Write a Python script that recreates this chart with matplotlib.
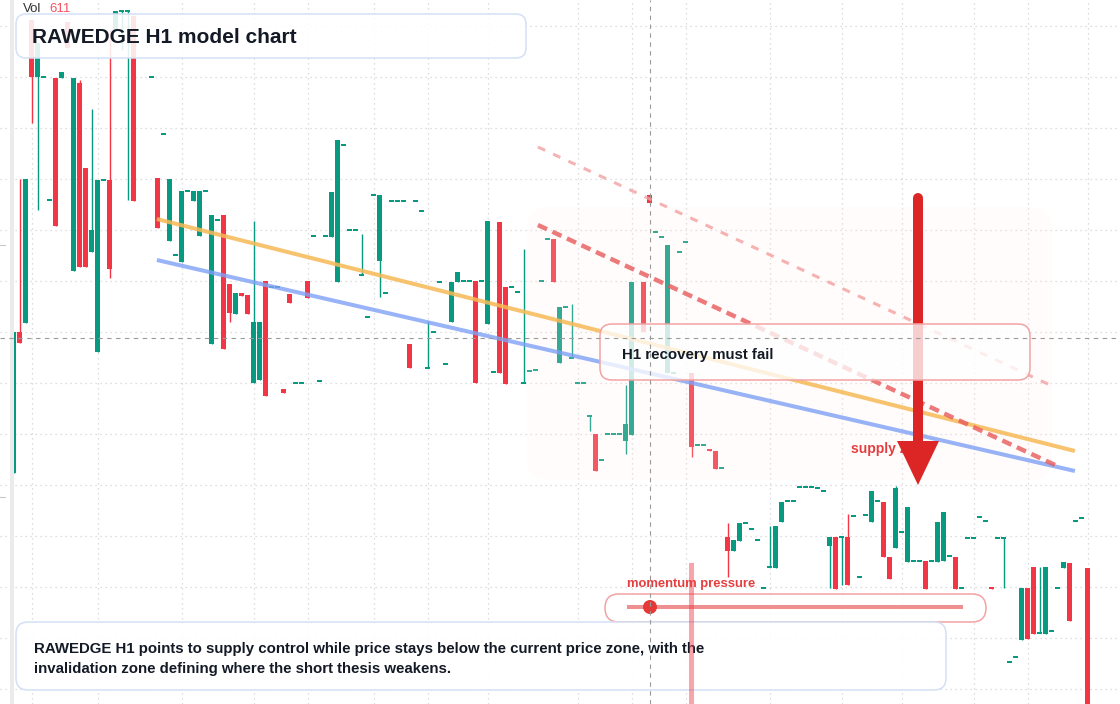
import matplotlib
matplotlib.use("Agg")
import matplotlib.pyplot as plt
from matplotlib.patches import FancyBboxPatch, Polygon, Circle
from matplotlib.transforms import Affine2D

W, H = 1120, 704

# candle OHLC, one slot per bar (None = empty slot)
opens = [231, 372, 381, 684, 627, 627, 504, 626, 626, 682,
         433, 621, 536, 452, 352, 524, 524, 674, 693, 693,
         688, None, None, 627, 526, 570, 463, 449, 442, 513,
         503, 468, 513, 360, 484, 489, 420, 390, 411, 409,
         321, 324, 423, 417, 417, 315, 410, 321, 321, 423,
         468, 323, 468, 467, 422, 559, 474, 474, 429, 387,
         509, 443, 411, 503, 503, 503, 360, 503, 493, 336,
         372, 422, 340, 382, 422, 423, 423, 423, 423, 380,
         332, 482, 417, 417, 412, 321, 333, 334, 423, 465,
         465, 341, 397, 346, 321, 321, 288, 270, 244, 270,
         270, 270, 263, 269, None, 422, 509, 472, 467, 331,
         331, 452, 462, 331, 259, 259, 254, 253, 236, 167,
         153, 163, 181, 175, 164, 116, 137, 136, 182, 203,
         203, 217, 217, 217, 216, 213, 158, 167, 167, 167,
         188, 127, 189, 182, 203, 202, 147, 156, 172, 142,
         143, 143, 143, 143, 142, 143, 148, 147, 116, 166,
         166, 187, 183, 117, 166, 166, 42, 47, 64, 116,
         137, 71, 70, 73, 116, 136, 141, 183, 186, 136]
highs = [372, 525, 525, 684, 661, 627, 504, 626, 632, 682,
         626, 624, 536, 595, 524, 524, 674, 693, 693, 693,
         688, None, None, 627, 526, 570, 525, 449, 513, 513,
         513, 513, 513, 489, 484, 489, 420, 411, 411, 409,
         483, 382, 423, 417, 417, 315, 410, 321, 321, 423,
         468, 323, 468, 512, 564, 559, 474, 474, 470, 387,
         509, 509, 411, 503, 503, 503, 360, 503, 493, 383,
         372, 422, 340, 422, 432, 423, 423, 423, 423, 483,
         332, 482, 417, 417, 412, 455, 333, 334, 423, 465,
         465, 397, 397, 400, 321, 321, 288, 270, 244, 270,
         270, 270, 319, 422, None, 422, 509, 472, 467, 459,
         331, 452, 462, 331, 259, 259, 254, 253, 236, 181,
         164, 181, 181, 175, 164, 116, 178, 178, 202, 203,
         203, 217, 217, 217, 216, 213, 167, 167, 167, 190,
         188, 127, 189, 213, 203, 202, 147, 218, 172, 197,
         143, 143, 143, 143, 182, 192, 148, 147, 116, 166,
         166, 187, 183, 117, 166, 166, 42, 47, 116, 116,
         137, 137, 137, 73, 116, 142, 141, 183, 186, 136]
lows = [231, 361, 381, 581, 494, 627, 504, 478, 626, 656,
        433, 437, 437, 452, 352, 524, 426, 674, 654, 504,
        503, None, None, 627, 476, 570, 463, 449, 442, 513,
        503, 468, 513, 360, 484, 355, 382, 390, 408, 390,
        321, 324, 308, 417, 417, 311, 401, 321, 321, 406,
        468, 323, 468, 467, 422, 559, 474, 474, 429, 387,
        509, 407, 411, 503, 503, 503, 336, 503, 493, 336,
        372, 422, 340, 382, 422, 423, 423, 321, 423, 380,
        332, 331, 320, 417, 412, 321, 333, 334, 423, 465,
        422, 341, 397, 346, 321, 321, 273, 233, 244, 270,
        270, 270, 250, 269, None, 372, 501, 472, 467, 331,
        331, 452, 462, 247, 259, 259, 253, 235, 236, 127,
        153, 163, 181, 175, 164, 116, 137, 136, 182, 203,
        203, 217, 217, 217, 216, 213, 116, 115, 119, 119,
        188, 127, 189, 182, 203, 147, 125, 156, 172, 142,
        143, 143, 115, 143, 142, 143, 148, 115, 116, 166,
        166, 187, 183, 115, 166, 116, 42, 47, 64, 65,
        70, 71, 70, 73, 116, 136, 83, 183, 186, -6]
closes = [372, 361, 525, 627, 661, 627, 504, 478, 632, 656,
          626, 437, 437, 474, 524, 524, 435, 693, 693, 693,
          503, None, None, 627, 476, 570, 525, 449, 513, 513,
          513, 513, 513, 489, 484, 355, 391, 411, 408, 390,
          382, 382, 308, 417, 417, 311, 401, 321, 321, 406,
          468, 323, 468, 512, 564, 559, 474, 474, 429, 387,
          509, 509, 411, 503, 503, 503, 336, 503, 493, 336,
          372, 422, 340, 422, 432, 423, 423, 321, 423, 483,
          332, 331, 320, 417, 412, 321, 333, 334, 423, 465,
          422, 397, 397, 346, 321, 321, 288, 233, 244, 270,
          270, 270, 280, 422, None, 372, 501, 472, 467, 459,
          331, 452, 462, 257, 259, 259, 253, 235, 236, 153,
          164, 181, 181, 175, 164, 116, 137, 178, 202, 203,
          203, 217, 217, 217, 216, 213, 167, 115, 167, 119,
          188, 127, 189, 213, 203, 147, 125, 216, 172, 197,
          143, 143, 115, 143, 182, 192, 148, 115, 116, 166,
          166, 187, 183, 115, 166, 166, 42, 47, 116, 65,
          70, 71, 137, 73, 116, 142, 83, 183, 186, -6]

# time-axis grid positions (bar index) and price grid levels
x_grid = [3, 14, 28, 40, 49, 60, 69, 79, 94, 103, 112, 126, 138, 148, 160, 169, 179]
y_grid = [678, 627, 576, 525, 474, 423, 372, 321, 270, 219, 168, 117, 66, 15]

# drawn trendlines: (bar index pair, price pair)
support_x, support_y = [23.9, 176.9], [444, 233]
resist_x, resist_y = [23.9, 176.9], [485, 253]
inval_x, inval_y = [87.4, 173.6], [479, 239]
upper_x, upper_y = [87.4, 173.1], [557, 318]

cross_bar, cross_price = 106, 366
vol_bar, vol_value = 113, 141

UP, DOWN = "#089981", "#f23645"
FONT = "Liberation Sans"

fig = plt.figure(figsize=(W / 100, H / 100), dpi=100)
ax = fig.add_axes([0, 0, 1, 1])
ax.set_xlim(-2.25, (W - 13.5) / 6)
ax.set_ylim(0, H)
ax.axis("off")
px = Affine2D().scale(1, -1).translate(0, H)  # screen pixels, origin top-left

# grid
for gx in x_grid:
    ax.axvline(gx, color="#d2d2d2", lw=0.9, ls=(0, (1, 3)), zorder=0)
for gy in y_grid:
    ax.axhline(gy, color="#d2d2d2", lw=0.9, ls=(0, (1, 3)), zorder=0)

# candles
for i in range(len(opens)):
    o, h, l, c = opens[i], highs[i], lows[i], closes[i]
    if o is None:
        continue
    col = UP if c >= o else DOWN
    if h > l:
        ax.vlines(i, l, h, color=col, lw=1.0, zorder=2)
    body = max(abs(c - o), 1.6)
    bottom = min(o, c) if abs(c - o) >= 1.6 else o - 0.8
    ax.bar(i, body, bottom=bottom, width=0.83, color=col, lw=0, zorder=2)

# left price scale strip and ticks
ax.add_patch(plt.Rectangle((10, 0), 4, H, transform=px, color="#ebebeb", lw=0, zorder=3))
for ty in [245, 497]:
    ax.plot([0, 5], [ty, ty], transform=px, color="#c8c8c8", lw=0.8, zorder=3)

# pale zone
ax.add_patch(FancyBboxPatch((527, 207), 525, 273, transform=px,
                            boxstyle="round,pad=0,rounding_size=22",
                            fc="#fff3ea", alpha=0.18, lw=0, zorder=3))

# trendlines
ax.plot(resist_x, resist_y, color="#f7b955", alpha=0.85, lw=2.9, solid_capstyle="butt", zorder=4)
ax.plot(support_x, support_y, color="#7fa0f5", alpha=0.8, lw=2.9, solid_capstyle="butt", zorder=4)
l1, = ax.plot(inval_x, inval_y, color="#e85a5a", alpha=0.8, lw=3.2, zorder=4)
l1.set_dashes([2.25, 1.35])
l2, = ax.plot(upper_x, upper_y, color="#f4a0a0", alpha=0.8, lw=2.2, zorder=4)
l2.set_dashes([2.6, 2.9])

# title box
ax.add_patch(FancyBboxPatch((16, 14), 510, 44, transform=px,
                            boxstyle="round,pad=0,rounding_size=10",
                            fc=(1, 1, 1, 0.88), ec="#d3e0f5", lw=1.1, zorder=5))
ax.text(32, 37.5, "RAWEDGE H1 model chart", transform=px, fontsize=15, fontweight="bold",
        color="#131a26", family=FONT, va="center", zorder=6)
ax.text(23, 9.5, "Vol", transform=px, fontsize=9.5, color="#333333", family=FONT, va="center", zorder=6)
ax.text(49, 9.5, "611", transform=px, fontsize=9.5, color="#f7525f", family=FONT, va="center", zorder=6)

# supply zone label and arrow
ax.text(851, 449.5, "supply zone", transform=px, fontsize=10, fontweight="bold",
        color="#e53e3e", family=FONT, va="center", zorder=6)
ax.plot([918, 918], [198, 450], transform=px, color="#dc2626", lw=7.2,
        solid_capstyle="round", zorder=7)
ax.add_patch(Polygon([(897, 441), (939, 441), (918, 485)], closed=True, transform=px,
                     fc="#dc2626", lw=0, zorder=7))

# recovery box
ax.add_patch(FancyBboxPatch((600, 324), 430, 56, transform=px,
                            boxstyle="round,pad=0,rounding_size=12",
                            fc=(1, 1, 1, 0.78), ec="#f2a3a3", lw=1.1, zorder=8))
ax.text(622, 355, "H1 recovery must fail", transform=px, fontsize=10.8, fontweight="bold",
        color="#131a26", family=FONT, va="center", zorder=9)

# momentum slider
ax.text(627, 583.5, "momentum pressure", transform=px, fontsize=9.4, fontweight="bold",
        color="#e53e3e", family=FONT, va="center", zorder=9)
ax.add_patch(FancyBboxPatch((605, 594), 381, 28, transform=px,
                            boxstyle="round,pad=0,rounding_size=14",
                            fc=(1, 1, 1, 0.85), ec="#f2a3a3", lw=1.1, zorder=8))
ax.plot([627, 963], [607, 607], transform=px, color="#ee7b7b", alpha=0.85, lw=2.9,
        solid_capstyle="butt", zorder=9)
ax.add_patch(Circle((650, 607), 7, transform=px, fc="#e53935", lw=0, zorder=9))

# summary box
ax.add_patch(FancyBboxPatch((16, 622), 930, 68, transform=px,
                            boxstyle="round,pad=0,rounding_size=12",
                            fc=(1, 1, 1, 0.92), ec="#d3e0f5", lw=1.1, zorder=8))
ax.text(34, 649.5, "RAWEDGE H1 points to supply control while price stays below the current price zone, with the",
        transform=px, fontsize=10.8, fontweight="bold", color="#131a26", family=FONT, va="center", zorder=9)
ax.text(34, 669.5, "invalidation zone defining where the short thesis weakens.",
        transform=px, fontsize=10.8, fontweight="bold", color="#131a26", family=FONT, va="center", zorder=9)

# crosshair and hovered volume bar
ax.bar(vol_bar, vol_value, bottom=0, width=0.83, color=DOWN, alpha=0.45, lw=0, zorder=10)
vl = ax.axvline(cross_bar, color="#9a9a9a", lw=0.8, zorder=10)
vl.set_dashes([4, 4])
hl = ax.axhline(cross_price, color="#9a9a9a", lw=0.8, zorder=10)
hl.set_dashes([4, 4])

fig.savefig("out.png", dpi=100)
